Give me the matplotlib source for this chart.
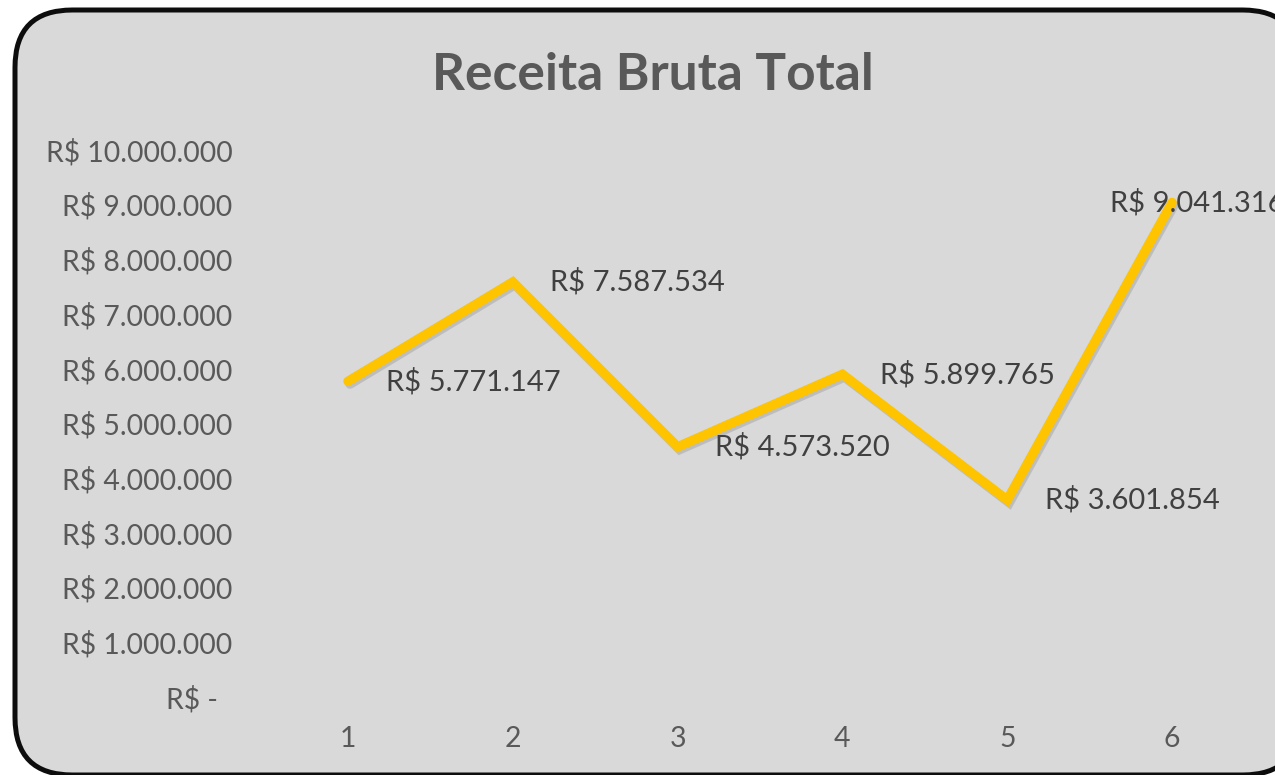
import matplotlib
matplotlib.use("Agg")
import matplotlib.pyplot as plt
import matplotlib.patheffects as pe
from matplotlib.patches import FancyBboxPatch
from matplotlib.ticker import FuncFormatter

periods = [1, 2, 3, 4, 5, 6]
receita = [5771147, 7587534, 4573520, 5899765, 3601854, 9041316]
title = "Receita Bruta Total"

plt.rcParams['font.family'] = ['Lato', 'DejaVu Sans']

W, H = 1275, 775
fig = plt.figure(figsize=(W / 100, H / 100), dpi=100)
fig.patch.set_facecolor('white')

# rounded chart-area border
box = FancyBboxPatch((15 / W, 0 / H), (1300 - 15) / W, (765 - 0) / H,
                     boxstyle="round,pad=0,rounding_size=0.045",
                     transform=fig.transFigure, facecolor='#d9d9d9',
                     edgecolor='#0d0d0d', linewidth=3.6, zorder=-5,
                     mutation_aspect=W / H)
fig.patches.append(box)

ax = fig.add_axes([265.6 / W, (H - 697) / H, (1254.4 - 265.6) / W, (697 - 150) / H])
ax.set_zorder(2)
ax.set_facecolor('none')
for s in ax.spines.values():
    s.set_visible(False)

ax.plot(periods, receita, color='#ffc400', linewidth=6.8,
        solid_capstyle='round', solid_joinstyle='miter', zorder=3,
        path_effects=[pe.SimpleLineShadow(offset=(1.5, -2), shadow_color='#7f7f7f', alpha=0.3),
                      pe.Normal()])

ax.set_xlim(0.5, 6.5)
ax.set_ylim(0, 10000000)
ax.set_xticks(periods)
ax.set_yticks(range(0, 10000001, 1000000))


def fmt(v, pos=None):
    if v == 0:
        return "R$ -  "
    return "R$ " + f"{int(round(v)):,}".replace(",", ".")


ax.yaxis.set_major_formatter(FuncFormatter(fmt))
ax.tick_params(axis='both', length=0, labelsize=20.4, labelcolor='#595959')
ax.tick_params(axis='y', pad=24)
ax.tick_params(axis='x', pad=21)

for i, (x, y) in enumerate(zip(periods, receita)):
    dx = 27 if i < len(periods) - 1 else -45
    ax.annotate(fmt(y), (x, y), xytext=(dx, 0), textcoords='offset points',
                ha='left', va='center', fontsize=21, color='#404040',
                zorder=5, annotation_clip=False)

fig.text(0.5 + 15 / W, (H - 75) / H, title, ha='center', va='center',
         fontsize=37, fontweight='bold', color='#595959')

fig.savefig("out.png", dpi=100)
